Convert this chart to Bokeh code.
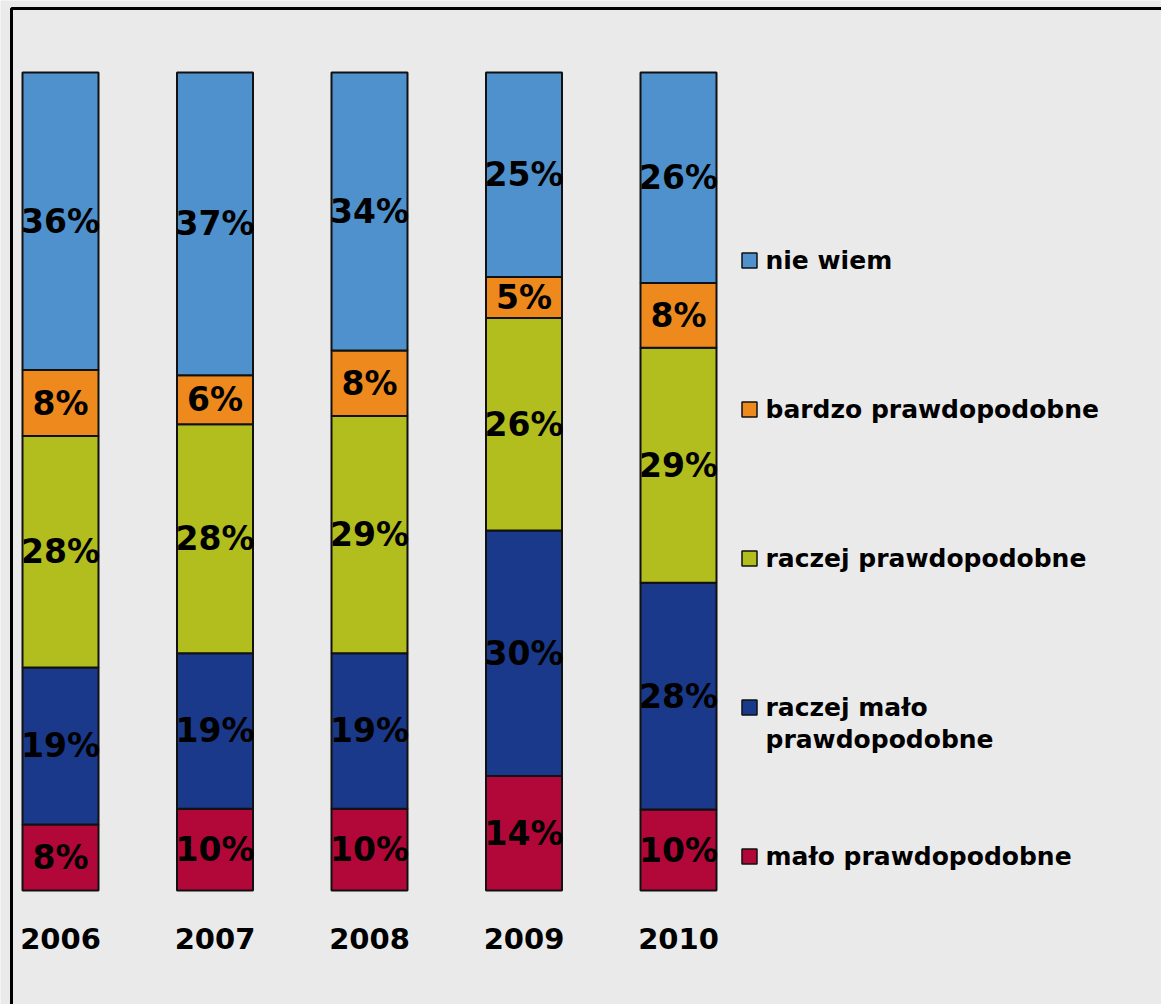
from bokeh.plotting import figure
from bokeh.models import Range1d, ColumnDataSource, BoxAnnotation
from bokeh.core.properties import value
from bokeh.embed import file_html
from bokeh.resources import INLINE
import numpy as np

# ---- data ----
years = ["2006", "2007", "2008", "2009", "2010"]
series_names = ["mało prawdopodobne", "raczej mało\nprawdopodobne",
                "raczej prawdopodobne", "bardzo prawdopodobne", "nie wiem"]
malo = [8, 10, 10, 14, 10]
raczej_malo = [19, 19, 19, 30, 28]
raczej = [28, 28, 29, 26, 29]
bardzo = [8, 6, 8, 5, 8]
nie_wiem = [36, 37, 34, 25, 26]
colors = ["#B20839", "#1A398A", "#B2BD1E", "#EE8A1D", "#4F91CD"]

series_vals = [malo, raczej_malo, raczej, bardzo, nie_wiem]
keys = ["malo", "raczej_malo", "raczej", "bardzo", "nie_wiem"]

# 100% stacked: normalize each year
vals = np.array(series_vals, dtype=float)
fracs = vals / vals.sum(axis=0)
xs = np.arange(len(years))

data = {"x": xs}
for k, f in zip(keys, fracs):
    data[k] = f
source = ColumnDataSource(data)

# layout in data units (bar spacing 1, full stack height 1)
PX_X = 154.5
PX_Y = 818.0
W, H = 1161, 1004
x0 = -60 / PX_X
y0 = -114 / PX_Y

p = figure(width=W, height=H, output_backend="svg", toolbar_location=None,
           x_range=Range1d(x0, x0 + W / PX_X), y_range=Range1d(y0, y0 + H / PX_Y),
           x_axis_location=None, y_axis_location=None, title=None,
           min_border=0, background_fill_color="#EAEAEA",
           border_fill_color="white", outline_line_color=None)
p.grid.visible = False

p.vbar_stack(keys, x="x", width=76 / PX_X, source=source, color=colors,
             line_color="#111111", line_width=2)

# percent labels centred in each segment
cum = np.cumsum(fracs, axis=0)
mids = cum - fracs / 2
lx, ly, lt = [], [], []
for s in range(len(keys)):
    for i in range(len(years)):
        lx.append(xs[i])
        ly.append(mids[s, i])
        lt.append(f"{series_vals[s][i]}%")
p.text(x=lx, y=ly, text=lt, text_align="center", text_baseline="middle",
       text_font=value("DejaVu Sans"), text_font_style="bold",
       text_font_size="33px", text_color="black")

# year labels
p.text(x=xs, y=[-48 / PX_Y] * len(years), text=years, text_align="center",
       text_baseline="middle", text_font=value("DejaVu Sans"),
       text_font_style="bold", text_font_size="29px", text_color="black")

# legend (manual)
leg_sq_x = (749 - 60) / PX_X
leg_tx_x = (765 - 60) / PX_X
leg_y0 = (1004 - 856 - 114) / PX_Y
leg_dy = 149 / PX_Y
for k, (name, col) in enumerate(zip(series_names, colors)):
    yy = leg_y0 + k * leg_dy
    p.scatter(x=[leg_sq_x], y=[yy], marker="square", size=15,
              fill_color=col, line_color="#111111", line_width=1.5)
    for j, line in enumerate(name.split("\n")):
        p.text(x=[leg_tx_x], y=[yy], text=[line], y_offset=j * 32,
               text_align="left", text_baseline="middle",
               text_font=value("DejaVu Sans"), text_font_style="bold",
               text_font_size="25px", text_color="black")

# outer border (left and top edges visible)
p.add_layout(BoxAnnotation(left=x0 + 11 / PX_X, right=x0 + (W + 50) / PX_X,
                           top=y0 + (H - 8) / PX_Y, bottom=y0 - 50 / PX_Y,
                           fill_alpha=0, line_color="black", line_alpha=1.0,
                           line_width=3))

open("out.html", "w").write(file_html(p, INLINE))
